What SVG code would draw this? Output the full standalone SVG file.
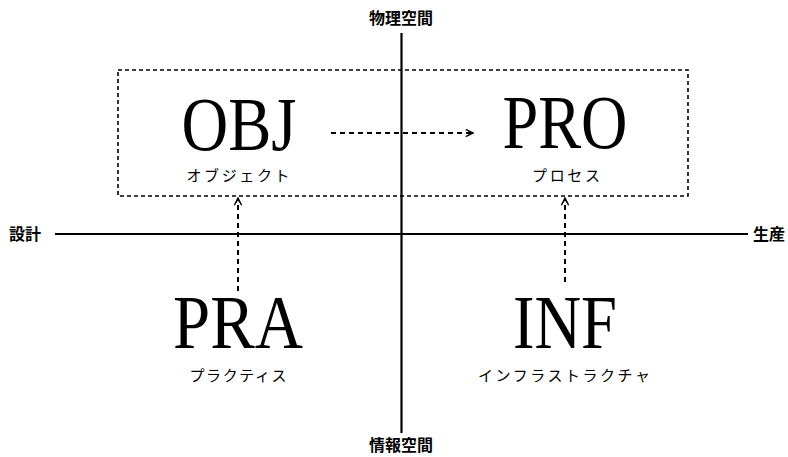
<svg xmlns="http://www.w3.org/2000/svg" width="788" height="457" viewBox="0 0 788 457">
<defs>
<style>
.big{font-family:"Liberation Serif","Times New Roman",serif;font-size:76px;fill:#000;text-anchor:middle}
.sub{font-family:"Noto Sans CJK JP",sans-serif;font-size:15px;fill:#000;text-anchor:middle}
.ax{font-family:"Noto Sans CJK JP",sans-serif;font-size:16px;font-weight:bold;fill:#000}
.axis{stroke:#000;stroke-width:2.2;fill:none}
.dash{stroke:#000;stroke-width:1.6;fill:none;stroke-dasharray:4 3}
.darrow{stroke:#000;stroke-width:2;fill:none;stroke-dasharray:5 4}
</style>
<marker id="ah" viewBox="0 0 10 10" refX="9" refY="5" markerWidth="9" markerHeight="9" markerUnits="userSpaceOnUse" orient="auto">
<path d="M1,1 L9,5 L1,9 M4,3 L9,5 L4,7" fill="none" stroke="#000" stroke-width="1.6"/>
</marker>
</defs>
<rect width="788" height="457" fill="#fff"/>
<g id="axes">
<line class="axis" x1="401.5" y1="33" x2="401.5" y2="433"/>
<line class="axis" x1="55" y1="234" x2="748" y2="234"/>
<text class="ax" x="401" y="24" text-anchor="middle">物理空間</text>
<text class="ax" x="401" y="451" text-anchor="middle">情報空間</text>
<text class="ax" x="9" y="240">設計</text>
<text class="ax" x="753" y="240">生産</text>
</g>
<g id="group-box">
<rect class="dash" x="118" y="70" width="570" height="126"/>
</g>
<g id="OBJ">
<text class="big" x="239" y="150" textLength="115" lengthAdjust="spacingAndGlyphs">OBJ</text>
<text class="sub" x="238" y="181" textLength="103" lengthAdjust="spacing">オブジェクト</text>
</g>
<g id="PRO">
<text class="big" x="565" y="148" textLength="125" lengthAdjust="spacingAndGlyphs">PRO</text>
<text class="sub" x="566" y="181" textLength="68" lengthAdjust="spacing">プロセス</text>
</g>
<g id="PRA">
<text class="big" x="238" y="348" textLength="130" lengthAdjust="spacingAndGlyphs">PRA</text>
<text class="sub" x="238" y="381" textLength="97" lengthAdjust="spacing">プラクティス</text>
</g>
<g id="INF">
<text class="big" x="565" y="348" textLength="104" lengthAdjust="spacingAndGlyphs">INF</text>
<text class="sub" x="564" y="381" textLength="172" lengthAdjust="spacing">インフラストラクチャ</text>
</g>
<g id="connectors">
<line class="darrow" x1="331" y1="133" x2="473" y2="133" marker-end="url(#ah)"/>
<line class="darrow" x1="238" y1="291" x2="238" y2="198" marker-end="url(#ah)"/>
<line class="darrow" x1="565" y1="282" x2="565" y2="198" marker-end="url(#ah)"/>
</g>
</svg>
